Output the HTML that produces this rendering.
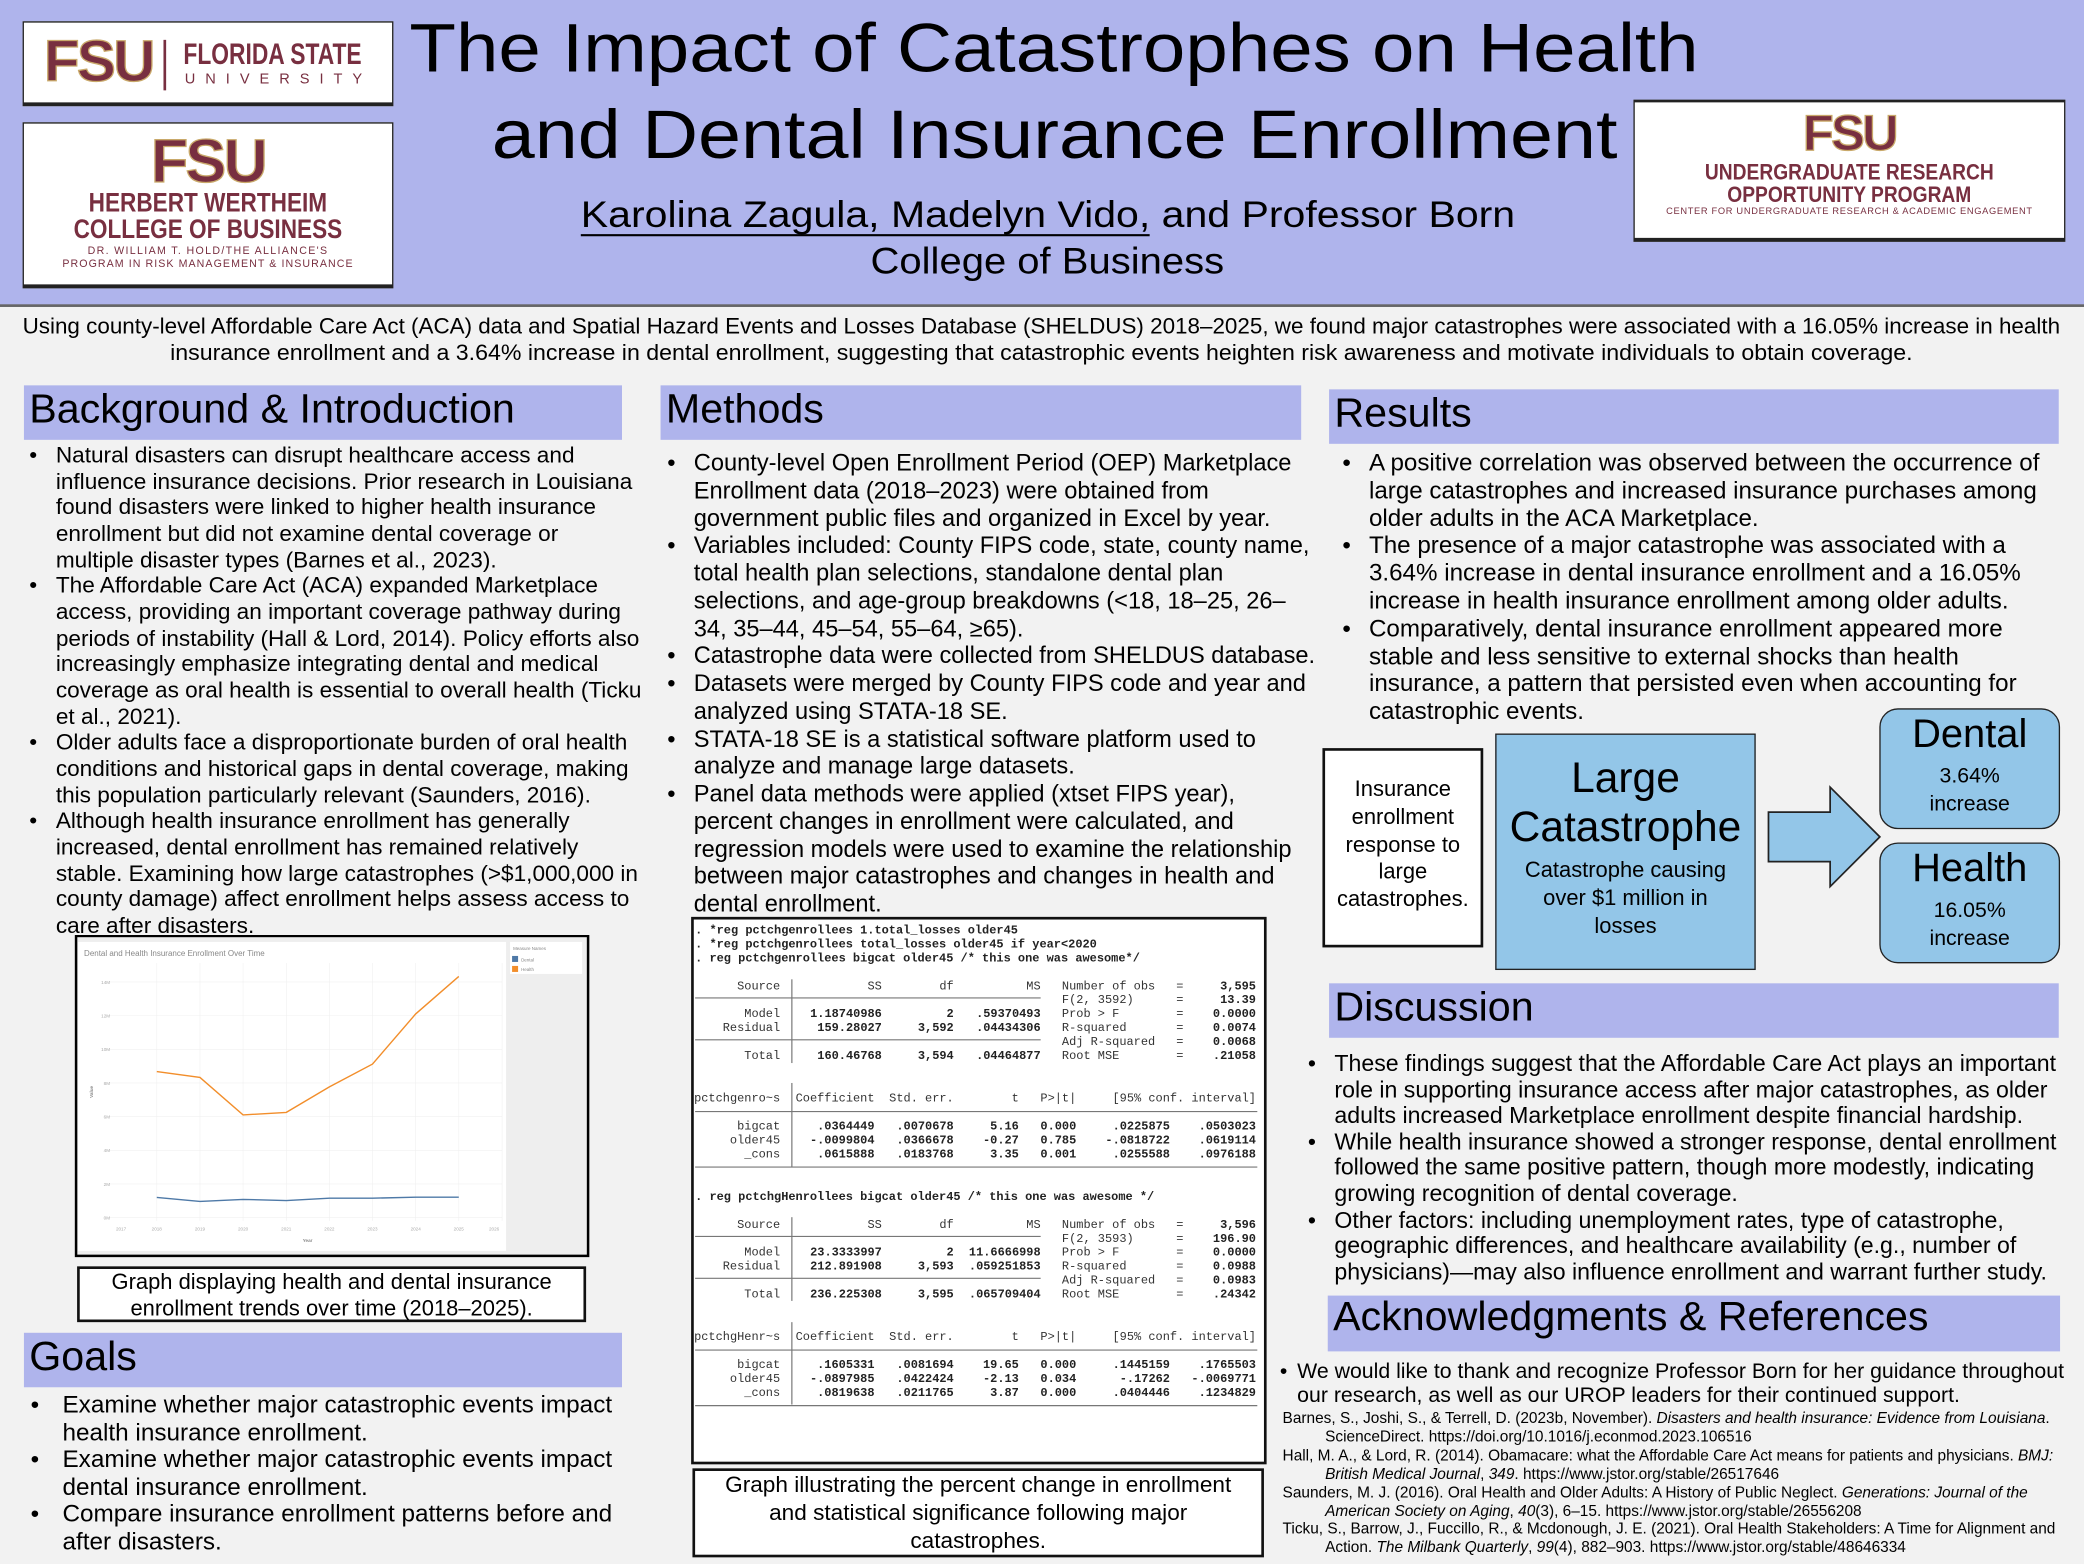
<!DOCTYPE html>
<html><head><meta charset="utf-8"><style>
html,body{margin:0;padding:0;width:2084px;height:1564px;overflow:hidden;background:#f2f2f2}
#w{position:absolute;left:0;top:0;width:1568px;height:1177px;transform:scale(1.32908,1.32880);transform-origin:0 0;font-family:"Liberation Sans",sans-serif;color:#000}
.a{position:absolute;white-space:nowrap}
.hd{position:absolute;background:#afb4ec;font-size:31px;line-height:36px;padding-left:4px;box-sizing:border-box}
.ul{position:absolute;font-size:16px;white-space:nowrap}
.ul div{position:relative}
.ul div:before{content:"•";position:absolute;left:-20px}
.box{position:absolute;box-sizing:border-box;text-align:center}
</style></head><body><div id="w">
<div class="a" style="left:0;top:0;width:1568px;height:229px;background:#afb4ec;border-bottom:2px solid #666"></div>

<!-- logos -->
<div class="box" style="left:17px;top:16px;width:279px;height:64px;background:#fff;border:1px solid #222;border-bottom:3px solid #222"></div>
<div class="a" style="left:33px;top:22px;font:bold 44px 'Liberation Sans',sans-serif;color:#782f40;letter-spacing:-2px;-webkit-text-stroke:1px #c9a96a">FSU</div>
<div class="a" style="left:123px;top:30px;width:2px;height:38px;background:#782f40"></div>
<div class="a" style="left:138px;top:28px;font:bold 22px 'Liberation Sans',sans-serif;color:#782f40;transform:scaleX(0.78);transform-origin:0 0">FLORIDA STATE</div>
<div class="a" style="left:139px;top:54px;font:11px 'Liberation Sans',sans-serif;color:#782f40;letter-spacing:7.5px">UNIVERSITY</div>

<div class="box" style="left:17px;top:92px;width:279px;height:125px;background:#fff;border:1px solid #222;border-bottom:3px solid #222"></div>
<div class="a" style="left:0;width:313px;text-align:center;top:94px;font:bold 46px 'Liberation Sans',sans-serif;color:#782f40;letter-spacing:-2px;-webkit-text-stroke:1px #c9a96a">FSU</div>
<div class="a" style="left:0;width:313px;text-align:center;top:142px;font:bold 20px 'Liberation Sans',sans-serif;color:#782f40;transform:scaleX(0.85);transform-origin:156px 0">HERBERT WERTHEIM</div>
<div class="a" style="left:0;width:313px;text-align:center;top:162px;font:bold 20px 'Liberation Sans',sans-serif;color:#782f40;transform:scaleX(0.85);transform-origin:156px 0">COLLEGE OF BUSINESS</div>
<div class="a" style="left:0;width:313px;text-align:center;top:184px;font:8px 'Liberation Sans',sans-serif;color:#782f40;letter-spacing:1px">DR. WILLIAM T. HOLD/THE ALLIANCE'S</div>
<div class="a" style="left:0;width:313px;text-align:center;top:194px;font:8px 'Liberation Sans',sans-serif;color:#782f40;letter-spacing:.8px">PROGRAM IN RISK MANAGEMENT &amp; INSURANCE</div>

<div class="box" style="left:1229px;top:75px;width:325px;height:107px;background:#fff;border:1px solid #222;border-bottom:3px solid #222;border-top:2px solid #222"></div>
<div class="a" style="left:1229px;width:325px;text-align:center;top:80px;font:bold 38px 'Liberation Sans',sans-serif;color:#782f40;letter-spacing:-2px;-webkit-text-stroke:1px #c9a96a">FSU</div>
<div class="a" style="left:1229px;width:325px;text-align:center;top:120px;font:bold 17px 'Liberation Sans',sans-serif;color:#782f40;transform:scaleX(0.85);transform-origin:162px 0">UNDERGRADUATE RESEARCH</div>
<div class="a" style="left:1229px;width:325px;text-align:center;top:137px;font:bold 17px 'Liberation Sans',sans-serif;color:#782f40;transform:scaleX(0.85);transform-origin:162px 0">OPPORTUNITY PROGRAM</div>
<div class="a" style="left:1229px;width:325px;text-align:center;top:156px;font:7px 'Liberation Sans',sans-serif;color:#782f40;letter-spacing:.5px">CENTER FOR UNDERGRADUATE RESEARCH &amp; ACADEMIC ENGAGEMENT</div>

<!-- title -->
<svg class="a" style="left:0;top:0" width="1568" height="230">
<text x="308" y="54" font-family="Liberation Sans" font-size="52" textLength="970" lengthAdjust="spacingAndGlyphs">The Impact of Catastrophes on Health</text>
<text x="370" y="119" font-family="Liberation Sans" font-size="52" textLength="847" lengthAdjust="spacingAndGlyphs">and Dental Insurance Enrollment</text>
<text x="437" y="171" font-family="Liberation Sans" font-size="28" textLength="703" lengthAdjust="spacingAndGlyphs">Karolina Zagula, Madelyn Vido, and Professor Born</text>
<line x1="437" y1="177" x2="865" y2="177" stroke="#000" stroke-width="1.6"/>
<text x="655" y="206" font-family="Liberation Sans" font-size="28" textLength="266" lengthAdjust="spacingAndGlyphs">College of Business</text>
</svg>

<!-- summary -->
<svg class="a" style="left:0;top:230px" width="1568" height="50">
<text x="17" y="21" font-family="Liberation Sans" font-size="16.5" textLength="1533" lengthAdjust="spacingAndGlyphs">Using county-level Affordable Care Act (ACA) data and Spatial Hazard Events and Losses Database (SHELDUS) 2018–2025, we found major catastrophes were associated with a 16.05% increase in health</text>
<text x="128" y="41" font-family="Liberation Sans" font-size="16.5" textLength="1311" lengthAdjust="spacingAndGlyphs">insurance enrollment and a 3.64% increase in dental enrollment, suggesting that catastrophic events heighten risk awareness and motivate individuals to obtain coverage.</text>
</svg>

<!-- headers -->
<div class="hd" style="left:18px;top:290px;width:450px;height:41px">Background &amp; Introduction</div>
<div class="hd" style="left:497px;top:290px;width:482px;height:41px">Methods</div>
<div class="hd" style="left:1000px;top:293px;width:549px;height:41px">Results</div>
<div class="hd" style="left:18px;top:1003px;width:450px;height:41px">Goals</div>
<div class="hd" style="left:1000px;top:740px;width:549px;height:41px">Discussion</div>
<div class="hd" style="left:999px;top:975px;width:551px;height:42px;line-height:32px">Acknowledgments &amp; References</div>

<!-- Background -->
<div class="ul" style="left:42px;top:333px;line-height:19.67px;font-size:17px">
<div>Natural disasters can disrupt healthcare access and<br>influence insurance decisions. Prior research in Louisiana<br>found disasters were linked to higher health insurance<br>enrollment but did not examine dental coverage or<br>multiple disaster types (Barnes et al., 2023).</div>
<div>The Affordable Care Act (ACA) expanded Marketplace<br>access, providing an important coverage pathway during<br>periods of instability (Hall &amp; Lord, 2014). Policy efforts also<br>increasingly emphasize integrating dental and medical<br>coverage as oral health is essential to overall health (Ticku<br>et al., 2021).</div>
<div>Older adults face a disproportionate burden of oral health<br>conditions and historical gaps in dental coverage, making<br>this population particularly relevant (Saunders, 2016).</div>
<div>Although health insurance enrollment has generally<br>increased, dental enrollment has remained relatively<br>stable. Examining how large catastrophes (&gt;$1,000,000 in<br>county damage) affect enrollment helps assess access to<br>care after disasters.</div>
</div>

<!-- Methods -->
<div class="ul" style="left:522px;top:338px;line-height:20.75px;font-size:17.8px">
<div>County-level Open Enrollment Period (OEP) Marketplace<br>Enrollment data (2018–2023) were obtained from<br>government public files and organized in Excel by year.</div>
<div>Variables included: County FIPS code, state, county name,<br>total health plan selections, standalone dental plan<br>selections, and age-group breakdowns (&lt;18, 18–25, 26–<br>34, 35–44, 45–54, 55–64, ≥65).</div>
<div>Catastrophe data were collected from SHELDUS database.</div>
<div>Datasets were merged by County FIPS code and year and<br>analyzed using STATA-18 SE.</div>
<div>STATA-18 SE is a statistical software platform used to<br>analyze and manage large datasets.</div>
<div>Panel data methods were applied (xtset FIPS year),<br>percent changes in enrollment were calculated, and<br>regression models were used to examine the relationship<br>between major catastrophes and changes in health and<br>dental enrollment.</div>
</div>

<!-- Results -->
<div class="ul" style="left:1030px;top:338px;line-height:20.8px;font-size:18.2px">
<div>A positive correlation was observed between the occurrence of<br>large catastrophes and increased insurance purchases among<br>older adults in the ACA Marketplace.</div>
<div>The presence of a major catastrophe was associated with a<br>3.64% increase in dental insurance enrollment and a 16.05%<br>increase in health insurance enrollment among older adults.</div>
<div>Comparatively, dental insurance enrollment appeared more<br>stable and less sensitive to external shocks than health<br>insurance, a pattern that persisted even when accounting for<br>catastrophic events.</div>
</div>

<!-- Discussion -->
<div class="ul" style="left:1004px;top:791px;line-height:19.6px;font-size:17.4px">
<div>These findings suggest that the Affordable Care Act plays an important<br>role in supporting insurance access after major catastrophes, as older<br>adults increased Marketplace enrollment despite financial hardship.</div>
<div>While health insurance showed a stronger response, dental enrollment<br>followed the same positive pattern, though more modestly, indicating<br>growing recognition of dental coverage.</div>
<div>Other factors: including unemployment rates, type of catastrophe,<br>geographic differences, and healthcare availability (e.g., number of<br>physicians)—may also influence enrollment and warrant further study.</div>
</div>

<!-- Goals -->
<div class="ul" style="left:47px;top:1047px;line-height:20.6px;font-size:18.3px">
<div>Examine whether major catastrophic events impact<br>health insurance enrollment.</div>
<div>Examine whether major catastrophic events impact<br>dental insurance enrollment.</div>
<div>Compare insurance enrollment patterns before and<br>after disasters.</div>
</div>
<style>.ul[style*="left:47px"] div:before{left:-24px}</style>

<!-- Ack -->
<div class="ul" style="left:976px;top:1024px;line-height:18px;font-size:16px">
<div>We would like to thank and recognize Professor Born for her guidance throughout<br>our research, as well as our UROP leaders for their continued support.</div>
</div>
<style>.ul[style*="left:976px"] div:before{left:-13px}</style>
<div class="a" style="left:965px;top:1061px;font-size:11.6px;line-height:13.9px">
Barnes, S., Joshi, S., &amp; Terrell, D. (2023b, November). <i>Disasters and health insurance: Evidence from Louisiana</i>.<br>
<span style="padding-left:32px">ScienceDirect. https://doi.org/10.1016/j.econmod.2023.106516</span><br>
Hall, M. A., &amp; Lord, R. (2014). Obamacare: what the Affordable Care Act means for patients and physicians. <i>BMJ:</i><br>
<span style="padding-left:32px"><i>British Medical Journal</i>, <i>349</i>. https://www.jstor.org/stable/26517646</span><br>
Saunders, M. J. (2016). Oral Health and Older Adults: A History of Public Neglect. <i>Generations: Journal of the</i><br>
<span style="padding-left:32px"><i>American Society on Aging</i>, <i>40</i>(3), 6–15. https://www.jstor.org/stable/26556208</span><br>
Ticku, S., Barrow, J., Fuccillo, R., &amp; Mcdonough, J. E. (2021). Oral Health Stakeholders: A Time for Alignment and<br>
<span style="padding-left:32px">Action. <i>The Milbank Quarterly</i>, <i>99</i>(4), 882–903. https://www.jstor.org/stable/48646334</span>
</div>

<!-- results flow -->
<div class="box" style="left:995px;top:563px;width:121px;height:150px;background:#fff;border:2px solid #111;font-size:16.5px;line-height:20.8px;padding-top:19px">Insurance<br>enrollment<br>response to<br>large<br>catastrophes.</div>
<div class="box" style="left:1125px;top:552px;width:196px;height:178px;background:#93c6e8;border:1.5px solid #222">
<div style="font-size:32px;line-height:37px;margin-top:14px">Large<br>Catastrophe</div>
<div style="font-size:16.5px;line-height:20.8px;margin-top:4px">Catastrophe causing<br>over $1 million in<br>losses</div></div>
<div class="box" style="left:1414px;top:533px;width:136px;height:91px;background:#93c6e8;border:1.5px solid #222;border-radius:14px">
<div style="font-size:30px;line-height:34px;margin-top:2px">Dental</div>
<div style="font-size:16px;line-height:20.5px;margin-top:5px">3.64%<br>increase</div></div>
<div class="box" style="left:1414px;top:634px;width:136px;height:91px;background:#93c6e8;border:1.5px solid #222;border-radius:14px">
<div style="font-size:30px;line-height:34px;margin-top:2px">Health</div>
<div style="font-size:16px;line-height:20.5px;margin-top:5px">16.05%<br>increase</div></div>

<!-- captions -->
<div class="box" style="left:58px;top:953px;width:383px;height:42px;background:#fff;border:2px solid #111;font-size:16.5px;line-height:19.5px;padding-top:1px">Graph displaying health and dental insurance<br>enrollment trends over time (2018–2025).</div>
<div class="box" style="left:521px;top:1105px;width:430px;height:67px;background:#fff;border:2px solid #111;font-size:17px;line-height:20.8px;padding-top:1px">Graph illustrating the percent change in enrollment<br>and statistical significance following major<br>catastrophes.</div>

<svg class="a" style="left:0;top:0" width="1568" height="1177">
<polygon points="1330.6,611.2 1377,611.2 1377,592.4 1414.4,629.8 1377,667.2 1377,648.4 1330.6,648.4" fill="#93c6e8" stroke="#222" stroke-width="1.3"/>

<rect x="521" y="691" width="431" height="410" fill="#fff" stroke="#111" stroke-width="2"/>
<g font-family="Liberation Mono" font-size="9" font-weight="bold" fill="#222">
<text x="523" y="702.5">. *reg pctchgenrollees 1.total_losses older45</text>
<text x="523" y="713">. *reg pctchgenrollees total_losses older45 if year&lt;2020</text>
<text x="523" y="723.5">. reg pctchgenrollees bigcat older45 /* this one was awesome*/</text>
<text x="523" y="903">. reg pctchgHenrollees bigcat older45 /* this one was awesome */</text>
</g>
<g font-family="Liberation Mono" font-size="9" fill="#333" text-anchor="end">
<text x="587" y="744.5">Source</text><text x="663.5" y="744.5">SS</text><text x="717.6" y="744.5">df</text><text x="783" y="744.5">MS</text>
<text x="587" y="765.5">Model</text><text x="587" y="776">Residual</text><text x="587" y="797">Total</text>
<g text-anchor="start"><text x="799" y="744.5">Number of obs</text><text x="799" y="755">F(2, 3592)</text><text x="799" y="765.5">Prob &gt; F</text><text x="799" y="776">R-squared</text><text x="799" y="786.5">Adj R-squared</text><text x="799" y="797">Root MSE</text>
<text x="885" y="744.5">=</text><text x="885" y="755">=</text><text x="885" y="765.5">=</text><text x="885" y="776">=</text><text x="885" y="786.5">=</text><text x="885" y="797">=</text></g>
<g font-weight="bold" fill="#222">
<text x="663.5" y="765.5">1.18740986</text><text x="717.6" y="765.5">2</text><text x="783" y="765.5">.59370493</text>
<text x="663.5" y="776">159.28027</text><text x="717.6" y="776">3,592</text><text x="783" y="776">.04434306</text>
<text x="663.5" y="797">160.46768</text><text x="717.6" y="797">3,594</text><text x="783" y="797">.04464877</text>
<text x="945" y="744.5">3,595</text><text x="945" y="755">13.39</text><text x="945" y="765.5">0.0000</text><text x="945" y="776">0.0074</text><text x="945" y="786.5">0.0068</text><text x="945" y="797">.21058</text>
</g>
<text x="587" y="829">pctchgenro~s</text><text x="658" y="829">Coefficient</text><text x="717.6" y="829">Std. err.</text><text x="766.6" y="829">t</text><text x="809.8" y="829">P&gt;|t|</text><text x="945" y="829">[95% conf. interval]</text>
<text x="587" y="850">bigcat</text><text x="587" y="860.5">older45</text><text x="587" y="871">_cons</text>
<g font-weight="bold" fill="#222">
<text x="658" y="850">.0364449</text><text x="717.6" y="850">.0070678</text><text x="766.6" y="850">5.16</text><text x="809.8" y="850">0.000</text><text x="880.3" y="850">.0225875</text><text x="945" y="850">.0503023</text>
<text x="658" y="860.5">-.0099804</text><text x="717.6" y="860.5">.0366678</text><text x="766.6" y="860.5">-0.27</text><text x="809.8" y="860.5">0.785</text><text x="880.3" y="860.5">-.0818722</text><text x="945" y="860.5">.0619114</text>
<text x="658" y="871">.0615888</text><text x="717.6" y="871">.0183768</text><text x="766.6" y="871">3.35</text><text x="809.8" y="871">0.001</text><text x="880.3" y="871">.0255588</text><text x="945" y="871">.0976188</text>
</g>
<text x="587" y="924">Source</text><text x="663.5" y="924">SS</text><text x="717.6" y="924">df</text><text x="783" y="924">MS</text>
<text x="587" y="945">Model</text><text x="587" y="955.5">Residual</text><text x="587" y="976.5">Total</text>
<g text-anchor="start"><text x="799" y="924">Number of obs</text><text x="799" y="934.5">F(2, 3593)</text><text x="799" y="945">Prob &gt; F</text><text x="799" y="955.5">R-squared</text><text x="799" y="966">Adj R-squared</text><text x="799" y="976.5">Root MSE</text>
<text x="885" y="924">=</text><text x="885" y="934.5">=</text><text x="885" y="945">=</text><text x="885" y="955.5">=</text><text x="885" y="966">=</text><text x="885" y="976.5">=</text></g>
<g font-weight="bold" fill="#222">
<text x="663.5" y="945">23.3333997</text><text x="717.6" y="945">2</text><text x="783" y="945">11.6666998</text>
<text x="663.5" y="955.5">212.891908</text><text x="717.6" y="955.5">3,593</text><text x="783" y="955.5">.059251853</text>
<text x="663.5" y="976.5">236.225308</text><text x="717.6" y="976.5">3,595</text><text x="783" y="976.5">.065709404</text>
<text x="945" y="924">3,596</text><text x="945" y="934.5">196.90</text><text x="945" y="945">0.0000</text><text x="945" y="955.5">0.0988</text><text x="945" y="966">0.0983</text><text x="945" y="976.5">.24342</text>
</g>
<text x="587" y="1008.5">pctchgHenr~s</text><text x="658" y="1008.5">Coefficient</text><text x="717.6" y="1008.5">Std. err.</text><text x="766.6" y="1008.5">t</text><text x="809.8" y="1008.5">P&gt;|t|</text><text x="945" y="1008.5">[95% conf. interval]</text>
<text x="587" y="1029.5">bigcat</text><text x="587" y="1040">older45</text><text x="587" y="1050.5">_cons</text>
<g font-weight="bold" fill="#222">
<text x="658" y="1029.5">.1605331</text><text x="717.6" y="1029.5">.0081694</text><text x="766.6" y="1029.5">19.65</text><text x="809.8" y="1029.5">0.000</text><text x="880.3" y="1029.5">.1445159</text><text x="945" y="1029.5">.1765503</text>
<text x="658" y="1040">-.0897985</text><text x="717.6" y="1040">.0422424</text><text x="766.6" y="1040">-2.13</text><text x="809.8" y="1040">0.034</text><text x="880.3" y="1040">-.17262</text><text x="945" y="1040">-.0069771</text>
<text x="658" y="1050.5">.0819638</text><text x="717.6" y="1050.5">.0211765</text><text x="766.6" y="1050.5">3.87</text><text x="809.8" y="1050.5">0.000</text><text x="880.3" y="1050.5">.0404446</text><text x="945" y="1050.5">.1234829</text>
</g>
</g>
<g stroke="#777" stroke-width="0.9">
<line x1="523" y1="751" x2="783" y2="751"/><line x1="523" y1="782.5" x2="783" y2="782.5"/>
<line x1="523" y1="836.5" x2="946" y2="836.5"/><line x1="523" y1="878.3" x2="946" y2="878.3"/>
<line x1="523" y1="930.5" x2="783" y2="930.5"/><line x1="523" y1="962" x2="783" y2="962"/>
<line x1="523" y1="1016" x2="946" y2="1016"/><line x1="523" y1="1057.8" x2="946" y2="1057.8"/>
<line x1="595.8" y1="737" x2="595.8" y2="800"/><line x1="595.8" y1="815" x2="595.8" y2="878"/>
<line x1="595.8" y1="916" x2="595.8" y2="979"/><line x1="595.8" y1="995" x2="595.8" y2="1057"/>
</g>

<svg x="52.7" y="703.6" width="391.3" height="248.3" viewBox="0 0 520 330">
<rect x="6" y="1" width="512" height="320" fill="#eeeeee" stroke="#000" stroke-width="2.5"/>
<rect x="8" y="7" width="428" height="309" fill="#fff"/>
<rect x="440" y="7" width="72" height="32" fill="#fff"/>
<text x="443" y="15" font-family="Liberation Sans" font-size="4.5" fill="#888">Measure Names</text>
<rect x="442" y="21" width="6" height="6" fill="#4e79a7"/><text x="451" y="26.5" font-family="Liberation Sans" font-size="4.5" fill="#888">Dental</text>
<rect x="442" y="31" width="6" height="6" fill="#f28e2b"/><text x="451" y="36" font-family="Liberation Sans" font-size="4.5" fill="#888">Health</text>
<text x="14" y="21" font-family="Liberation Sans" font-size="8" fill="#888">Dental and Health Insurance Enrollment Over Time</text>
<g stroke="#f0f0f0" stroke-width="0.6">
<line x1="38" y1="282.7" x2="432" y2="282.7"/><line x1="38" y1="249" x2="432" y2="249"/><line x1="38" y1="215.4" x2="432" y2="215.4"/><line x1="38" y1="181.7" x2="432" y2="181.7"/><line x1="38" y1="148" x2="432" y2="148"/><line x1="38" y1="114.4" x2="432" y2="114.4"/><line x1="38" y1="80.7" x2="432" y2="80.7"/><line x1="38" y1="47" x2="432" y2="47"/>
<line x1="86.7" y1="28" x2="86.7" y2="286"/><line x1="129.9" y1="28" x2="129.9" y2="286"/><line x1="173" y1="28" x2="173" y2="286"/><line x1="216.2" y1="28" x2="216.2" y2="286"/><line x1="259.3" y1="28" x2="259.3" y2="286"/><line x1="302.4" y1="28" x2="302.4" y2="286"/><line x1="345.6" y1="28" x2="345.6" y2="286"/><line x1="388.7" y1="28" x2="388.7" y2="286"/><line x1="432" y1="28" x2="432" y2="286"/>
</g>
<g font-family="Liberation Sans" font-size="4.6" fill="#aaa" text-anchor="end">
<text x="40" y="284.5">0M</text><text x="40" y="251">2M</text><text x="40" y="217">4M</text><text x="40" y="183.5">6M</text><text x="40" y="150">8M</text><text x="40" y="116">10M</text><text x="40" y="82.5">12M</text><text x="40" y="49">14M</text>
</g>
<g font-family="Liberation Sans" font-size="4.6" fill="#aaa" text-anchor="middle">
<text x="51" y="295.5">2017</text><text x="86.7" y="295.5">2018</text><text x="129.9" y="295.5">2019</text><text x="173" y="295.5">2020</text><text x="216.2" y="295.5">2021</text><text x="259.3" y="295.5">2022</text><text x="302.4" y="295.5">2023</text><text x="345.6" y="295.5">2024</text><text x="388.7" y="295.5">2025</text><text x="424" y="295.5">2026</text>
<text x="237.5" y="307" font-weight="bold" fill="#888">Year</text>
<text transform="translate(23,157) rotate(-90)" font-weight="bold" fill="#888">Value</text>
</g>
<polyline fill="none" stroke="#f28e2b" stroke-width="1.4" points="86.7,136.6 129.9,142.5 173,180 216.2,177.5 259.3,152 302.4,129.2 345.6,79 388.7,41.5"/>
<polyline fill="none" stroke="#4e79a7" stroke-width="1.4" points="86.7,262.5 129.9,266.5 173,264.5 216.2,265.7 259.3,263.3 302.4,263.3 345.6,262.3 388.7,262.3"/>
</svg>
</svg>
</div></body></html>
